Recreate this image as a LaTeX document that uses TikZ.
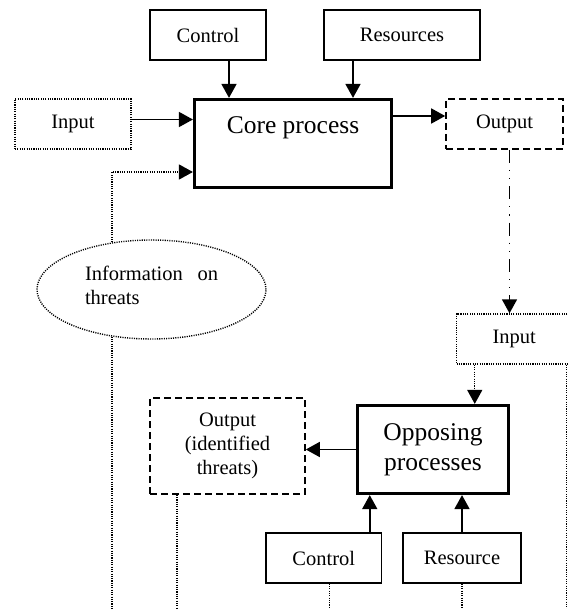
\documentclass[tikz,border=0pt]{standalone}
\usepackage{fontspec}
\setmainfont{Liberation Serif}
\usetikzlibrary{arrows.meta,shapes.geometric}

\begin{document}
\begin{tikzpicture}[x=1pt, y=-1pt,
    >={Triangle[length=14pt,width=15pt]},
    smalltext/.style={font=\fontsize{20.5}{24}\selectfont},
    bigtext/.style={font=\fontsize{25.5}{30}\selectfont},
    box/.style={draw, line width=1.5pt, inner sep=0pt, smalltext, align=center},
    dotline/.style={line width=1.4pt, dash pattern=on 1.1pt off 1.2pt},
    dotbox/.style={box, dotline},
    dashbox/.style={box, line width=1.6pt, dash pattern=on 7pt off 4pt},
    procbox/.style={draw, line width=3.2pt, inner sep=0pt, bigtext, align=center},
    dashdot/.style={line width=1.6pt, dash pattern=on 13pt off 7pt on 1.2pt off 7pt on 1.2pt off 7pt},
    arr/.style={->, line width=1.6pt}]
    \useasboundingbox (0,0) rectangle (568,609) ;
    \clip (0,0) rectangle (568,609) ;
    \coordinate (bottom) at (0,609) ;
    % core process and its boxes
    \draw (208,35) node [box, minimum width=116pt, minimum height=50pt] (ctrlA) {Control} ;
    \draw (402,35) node [box, minimum width=156pt, minimum height=50pt] (resA) {Resources} ;
    \draw (293,143.5) node [procbox, minimum width=197pt, minimum height=88pt,
      text height=20pt, text depth=40pt] (core) {Core process} ;
    \draw (73,124) node [dotbox, minimum width=116pt, minimum height=50pt] (inA) {Input} ;
    \draw (504.5,124) node [dashbox, minimum width=117pt, minimum height=50pt] (outA) {Output} ;
    \draw (151.5,289.5) node [ellipse, draw, dotline, inner sep=0pt, smalltext,
      minimum width=229pt, minimum height=99pt, text height=13.5pt, text depth=32pt] (info)
      {\parbox[t]{133pt}{Information on threats}} ;
    % opposing processes and their boxes
    \draw (514.25,339) node [dotbox, minimum width=115.5pt, minimum height=50pt] (inB) {Input} ;
    \draw (433,449.5) node [procbox, minimum width=151pt, minimum height=88pt] (opp) {Opposing\\processes} ;
    \draw (227.5,446) node [dashbox, minimum width=155pt, minimum height=96pt] (outB)
      {Output\\(identified\\threats)} ;
    \draw (323.75,558) node [box, minimum width=115.5pt, minimum height=50pt] (ctrlB) {Control} ;
    \draw (462,558) node [box, minimum width=118pt, minimum height=50pt] (resB) {Resource} ;
    % arrows
    \draw [arr] ([xshift=21pt]ctrlA.south) -- ([xshift=21pt]ctrlA.south |- core.north) ;
    \draw [arr] ([xshift=-49pt]resA.south) -- ([xshift=-49pt]resA.south |- core.north) ;
    \draw [arr] ([yshift=4.5pt]inA.east) -- ([yshift=4.5pt]inA.east -| core.west) ;
    \draw [arr] ([yshift=8pt]outA.west -| core.east) -- ([yshift=8pt]outA.west) ;
    \draw [dotline, ->] (info.130) |- ([yshift=-28.5pt]core.west) ;
    \draw [dashdot, ->] ([xshift=5pt]outA.south) -- ([xshift=5pt]outA.south |- inB.north) ;
    \draw [dotline, ->] ([xshift=-39.5pt]inB.south) -- ([xshift=-39.5pt]inB.south |- opp.north) ;
    \draw [arr] (opp.west) -- (opp.west -| outB.east) ;
    \draw [arr] ([xshift=46pt]ctrlB.north) -- ([xshift=46pt]ctrlB.north |- opp.south) ;
    \draw [arr] (resB.north) -- (resB.north |- opp.south) ;
    % dotted lines to the bottom
    \draw [dotline] (info.230) -- (info.230 |- bottom) ;
    \draw [dotline] ([xshift=-50.5pt]outB.south) -- ([xshift=-50.5pt]outB.south |- bottom) ;
    \draw [dotline] ([xshift=6pt]ctrlB.south) -- ([xshift=6pt]ctrlB.south |- bottom) ;
    \draw [dotline] (resB.south) -- (resB.south |- bottom) ;
    \draw [dotline] ([xshift=-6pt]inB.south east) -- ([xshift=-6pt]inB.south east |- bottom) ;
\end{tikzpicture}
\end{document}
